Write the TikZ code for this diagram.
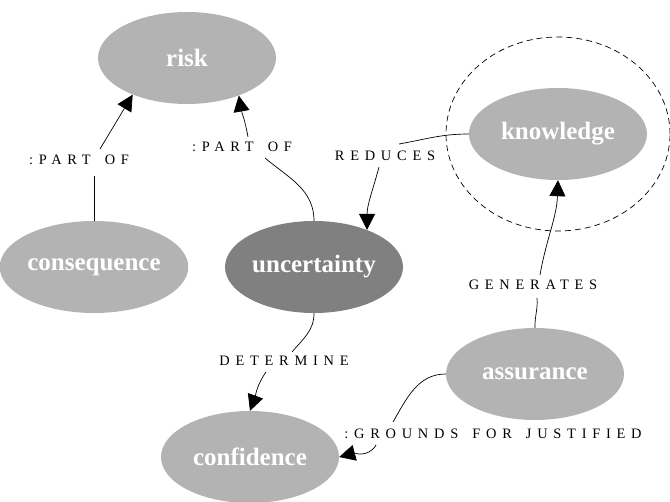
\documentclass[tikz,border=0pt]{standalone}
\usepackage{fontspec}
\setmainfont{Liberation Serif}
\newfontfamily\lblfont[LetterSpace=40,WordSpace=1.5]{Liberation Serif}
\usetikzlibrary{arrows.meta,shapes.geometric}
\definecolor{lgray}{RGB}{179,179,179}
\definecolor{dgray}{RGB}{128,128,128}
\begin{document}
\begin{tikzpicture}[x=1pt,y=1pt,
  concept/.style={ellipse, fill=lgray, minimum width=178pt, minimum height=92pt, inner sep=0pt, text=white, font=\fontsize{25}{29}\selectfont\bfseries},
  lbl/.style={font={\fontsize{14.4}{17}\lblfont}, inner sep=0pt},
  edge/.style={draw=black, line width=0.7pt},
  arr/.style={-{Triangle[length=16pt,width=16pt]}},
  ring/.style={ellipse, draw=black, line width=0.7pt, dash pattern=on 6pt off 4pt, minimum width=224pt, minimum height=194pt}]
\useasboundingbox (0,0) rectangle (670,-502);

\node[ring] (ring) at (558,-134) {};
\node[concept] (risk) at (187,-58) {risk};
\node[concept] (consequence) at (94,-267) {consequence};
\node[concept, fill=dgray] (uncertainty) at (314,-267) {uncertainty};
\node[concept] (knowledge) at (558,-134) {knowledge};
\node[concept] (assurance) at (535,-374) {assurance};
\node[concept] (confidence) at (250,-457) {confidence};

\node[lbl] (l1) at (79,-160) {:PART OF};
\node[lbl] (l2) at (242,-147) {:PART OF};
\node[lbl] (l3) at (385,-156) {REDUCES};
\node[lbl] (l4) at (533,-285) {GENERATES};
\node[lbl] (l5) at (284,-361) {DETERMINE};
\node[lbl] (l6) at (493,-434) {:GROUNDS FOR JUSTIFIED};

\coordinate (c1a) at (94,-176);
\coordinate (c1b) at (100,-149);
\coordinate (c2a) at (265,-158);
\coordinate (c2b) at (248,-137);
\coordinate (c3a) at (399,-144);
\coordinate (c3b) at (379,-167);
\coordinate (c4a) at (537,-298);
\coordinate (c4b) at (540,-275);
\coordinate (c5a) at (292,-352);
\coordinate (c5b) at (266,-372);
\coordinate (c6a) at (393,-422);
\coordinate (c6b) at (376,-445);

\draw[edge] (consequence.north) -- (c1a);
\draw[edge,arr] (c1b) -- (risk.214);

\draw[edge] (uncertainty.north) to[out=90,in=-40] (c2a);
\draw[edge,arr] (c2b) to[out=100,in=-80] (risk.324);

\draw[edge] (knowledge.west) to[out=180,in=10] (c3a);
\draw[edge,arr] (c3b) to[out=-105,in=90] (uncertainty.35);

\draw[edge] (assurance.north) to[out=92,in=-85] (c4a);
\draw[edge,arr] (c4b) to[out=80,in=-92] (knowledge.south);

\draw[edge] (uncertainty.south) to[out=-90,in=50] (c5a);
\draw[edge,arr] (c5b) to[out=-125,in=70] (confidence.north);

\draw[edge] (assurance.west) to[out=180,in=60] (c6a);
\draw[edge,arr] (c6b) to[out=-120,in=15] (confidence.east);
\end{tikzpicture}
\end{document}
